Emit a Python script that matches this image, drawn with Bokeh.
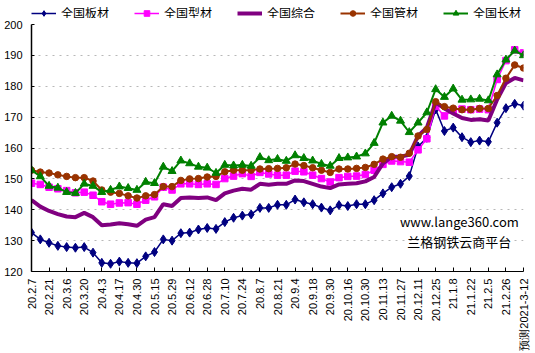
from bokeh.plotting import figure
from bokeh.models import (ColumnDataSource, Range1d, FixedTicker, Legend, LegendItem, Label)
from bokeh.layouts import column
from bokeh.embed import file_html
from bokeh.resources import INLINE
import math

# ---- data ----
tick_labels = ["20.2.7", "20.2.21", "20.3.6", "20.3.20", "20.4.3", "20.4.17", "20.4.30",
               "20.5.15", "20.5.29", "20.6.12", "20.6.28", "20.7.10", "20.7.24", "20.8.7",
               "20.8.21", "20.9.4", "20.9.18", "20.9.30", "20.10.16", "20.10.30", "20.11.13",
               "20.11.27", "20.12.11", "20.12.25", "21.1.8", "21.1.22", "21.2.5", "21.2.26",
               "预测2021-3-12"]

bancai = [132.6, 130.4, 129.3, 128.3, 127.9, 127.7, 127.9, 126.1, 122.8, 122.5,
          123.2, 122.8, 122.7, 124.9, 126.3, 130.4, 130.0, 132.4, 132.6, 133.6,
          134.1, 133.8, 136.0, 137.4, 138.1, 138.5, 140.6, 140.6, 141.6, 141.6,
          143.3, 142.4, 141.8, 140.7, 139.8, 141.5, 141.2, 141.8, 141.8, 143.1,
          145.3, 147.3, 148.4, 150.9, 160.5, 163.3, 172.5, 165.5, 166.6, 163.5,
          161.9, 162.4, 162.0, 168.2, 172.9, 174.3, 173.7]

xingcai = [148.6, 148.2, 147.3, 146.8, 146.2, 145.5, 145.7, 144.7, 142.6, 141.8,
           142.2, 142.3, 141.8, 143.1, 144.2, 147.3, 146.4, 148.4, 148.4, 148.2,
           148.4, 148.2, 150.1, 150.9, 151.7, 150.8, 152.1, 151.6, 151.2, 151.2,
           152.5, 152.3, 151.2, 150.1, 149.0, 150.4, 150.8, 150.9, 151.4, 152.8,
           154.7, 155.8, 155.6, 155.4, 159.4, 163.0, 173.5, 170.4, 172.3, 172.6,
           172.4, 172.6, 172.4, 182.2, 188.3, 191.8, 190.8]

zonghe = [143.1, 141.0, 139.6, 138.6, 137.8, 137.6, 139.0, 137.6, 135.0, 135.2,
          135.6, 135.3, 134.8, 136.8, 137.6, 141.8, 141.2, 143.8, 144.0, 143.8,
          144.0, 143.1, 145.3, 146.2, 146.8, 146.5, 148.4, 148.1, 148.4, 148.4,
          149.5, 149.3, 148.4, 147.5, 147.0, 148.2, 148.4, 148.6, 149.2, 150.6,
          155.0, 157.2, 157.2, 157.8, 163.9, 166.6, 174.8, 172.8, 171.2, 169.7,
          169.1, 169.3, 168.9, 175.7, 181.0, 182.7, 181.9]

guancai = [152.8, 152.2, 151.9, 151.3, 150.8, 150.4, 150.4, 149.3, 146.4, 145.7,
           145.3, 144.5, 143.8, 144.5, 144.9, 147.5, 147.5, 149.5, 150.0, 150.1,
           150.6, 150.8, 152.3, 152.8, 152.8, 152.8, 153.2, 153.3, 153.4, 153.6,
           154.8, 154.3, 153.6, 152.8, 152.1, 153.2, 153.2, 153.4, 153.7, 154.7,
           156.4, 157.2, 157.0, 158.3, 163.9, 166.0, 175.0, 173.4, 172.9, 172.4,
           172.4, 172.8, 172.8, 177.0, 182.6, 186.9, 185.9]

changcai = [152.8, 150.8, 147.7, 147.1, 145.7, 145.4, 148.4, 147.7, 145.7, 146.4,
            147.5, 147.0, 146.4, 149.0, 148.6, 153.9, 152.5, 155.9, 155.0, 153.9,
            153.6, 151.9, 154.5, 154.3, 154.5, 154.2, 157.0, 156.0, 156.4, 155.8,
            157.6, 156.7, 155.9, 154.8, 154.2, 156.7, 156.9, 157.2, 158.2, 161.6,
            168.2, 170.4, 168.8, 165.1, 168.2, 171.5, 179.0, 176.5, 179.2, 175.6,
            175.7, 175.9, 175.4, 183.8, 188.6, 191.5, 190.0]

series_names = ["全国板材", "全国型材", "全国综合", "全国管材", "全国长材"]

# ---- styles ----
styles = [
    dict(col="bancai", color="#000080", lw=1.5, marker="diamond", size=9),
    dict(col="xingcai", color="#FF00FF", lw=1.5, marker="square", size=6.5),
    dict(col="zonghe", color="#800080", lw=4, marker=None, size=0),
    dict(col="guancai", color="#993300", lw=2, marker="circle", size=6.5),
    dict(col="changcai", color="#008000", lw=2, marker="triangle", size=8),
]

x = list(range(len(bancai)))
src = ColumnDataSource(dict(x=x, bancai=bancai, xingcai=xingcai, zonghe=zonghe,
                            guancai=guancai, changcai=changcai))

p = figure(width=535, height=335, output_backend="svg", toolbar_location=None,
           x_range=Range1d(0, len(x) - 1), y_range=Range1d(120, 200),
           min_border_left=31, min_border_right=12, min_border_top=6, min_border_bottom=10)
p.outline_line_color = None
p.background_fill_color = "white"

tick_font = "Liberation Sans"
p.xaxis.ticker = FixedTicker(ticks=list(range(0, len(x), 2)))
p.xaxis.major_label_overrides = {i * 2: lab for i, lab in enumerate(tick_labels)}
p.xaxis.major_label_orientation = math.pi / 2
p.xaxis.major_label_text_font = tick_font
p.xaxis.major_label_text_font_size = "11px"
p.xaxis.major_label_text_color = "black"
p.xaxis.major_label_standoff = 7
p.xaxis.major_tick_in = 4
p.xaxis.major_tick_out = 0
p.xaxis.minor_tick_line_color = None
p.xaxis.axis_line_color = "black"
p.xaxis.axis_line_width = 1.2
p.xaxis.major_tick_line_color = "black"

p.yaxis.ticker = FixedTicker(ticks=list(range(120, 201, 10)))
p.yaxis.major_label_text_font = tick_font
p.yaxis.major_label_text_font_size = "11px"
p.yaxis.major_label_text_color = "black"
p.yaxis.major_label_standoff = 9
p.yaxis.major_tick_in = 3
p.yaxis.major_tick_out = 0
p.yaxis.minor_tick_line_color = None
p.yaxis.axis_line_color = "black"
p.yaxis.axis_line_width = 1.5
p.yaxis.major_tick_line_color = "black"

p.xgrid.grid_line_color = None
p.ygrid.grid_line_color = "#b8b8b8"
p.ygrid.grid_line_dash = "2 5"
p.ygrid.grid_line_width = 1

for st in styles:
    p.line("x", st["col"], source=src, line_color=st["color"], line_width=st["lw"])
    if st["marker"]:
        p.scatter("x", st["col"], source=src, marker=st["marker"], size=st["size"],
                  fill_color=st["color"], line_color=st["color"])

p.add_layout(Label(x=48.7, y=136.1, text="www.lange360.com", text_align="center",
                   text_baseline="middle", text_font="Noto Sans CJK SC",
                   text_font_size="13px", text_color="black"))
p.add_layout(Label(x=48.7, y=129.8, text="兰格钢铁云商平台", text_align="center",
                   text_baseline="middle", text_font="Noto Sans CJK SC",
                   text_font_size="13px", text_color="black"))

# ---- legend strip (separate figure above the chart) ----
lf = figure(width=535, height=18, output_backend="svg", toolbar_location=None,
            x_range=Range1d(0, 1), y_range=Range1d(0, 1),
            min_border_left=18, min_border_right=0, min_border_top=4, min_border_bottom=0,
            x_axis_type=None, y_axis_type=None)
lf.outline_line_color = None
lf.xgrid.grid_line_color = None
lf.ygrid.grid_line_color = None
dummy = ColumnDataSource(dict(x=[-10.0], y=[-10.0]))
items = []
for st, name in zip(styles, series_names):
    rs = [lf.line("x", "y", source=dummy, line_color=st["color"], line_width=st["lw"])]
    if st["marker"]:
        rs.append(lf.scatter("x", "y", source=dummy, marker=st["marker"], size=st["size"],
                             fill_color=st["color"], line_color=st["color"]))
    items.append(LegendItem(label=name, renderers=rs))
legend = Legend(items=items, orientation="horizontal", location="top_left",
                glyph_width=25, glyph_height=14, label_standoff=5, spacing=25,
                padding=0, margin=0, border_line_color=None, background_fill_alpha=0,
                label_text_font="Noto Sans CJK SC", label_text_font_size="12px",
                label_text_line_height=1.0,
                label_text_color="black", label_height=14)
lf.add_layout(legend, "center")

open("out.html", "w").write(file_html(column(lf, p, spacing=0), INLINE))
